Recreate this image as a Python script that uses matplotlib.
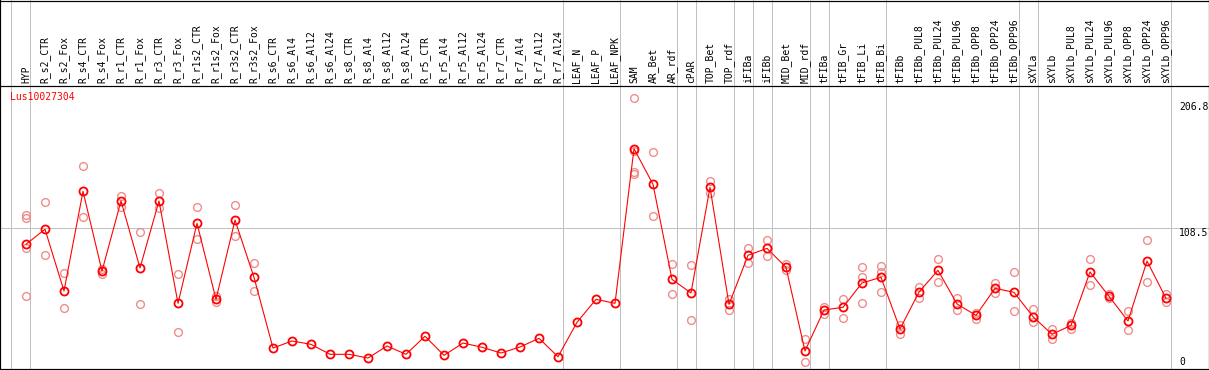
import matplotlib
matplotlib.use("Agg")
import matplotlib.pyplot as plt

# sample names along the top
samples = ["HYP",
           "R_s2_CTR", "R_s2_Fox", "R_s4_CTR", "R_s4_Fox", "R_r1_CTR", "R_r1_Fox",
           "R_r3_CTR", "R_r3_Fox", "R_r1s2_CTR", "R_r1s2_Fox", "R_r3s2_CTR", "R_r3s2_Fox",
           "R_s6_CTR", "R_s6_Al4", "R_s6_Al12", "R_s6_Al24",
           "R_s8_CTR", "R_s8_Al4", "R_s8_Al12", "R_s8_Al24",
           "R_r5_CTR", "R_r5_Al4", "R_r5_Al12", "R_r5_Al24",
           "R_r7_CTR", "R_r7_Al4", "R_r7_Al12", "R_r7_Al24",
           "LEAF_N", "LEAF_P", "LEAF_NPK",
           "SAM", "AR_Bet", "AR_rdf", "cPAR", "TOP_Bet", "TOP_rdf",
           "iFIBa", "iFIBb", "MID_Bet", "MID_rdf",
           "tFIBa", "tFIB_Gr", "tFIB_Li", "tFIB_Bi",
           "tFIBb", "tFIBb_PUL8", "tFIBb_PUL24", "tFIBb_PUL96",
           "tFIBb_OPP8", "tFIBb_OPP24", "tFIBb_OPP96",
           "sXYLa", "sXYLb", "sXYLb_PUL8", "sXYLb_PUL24", "sXYLb_PUL96",
           "sXYLb_OPP8", "sXYLb_OPP24", "sXYLb_OPP96"]

# mean expression per sample
means = [95.8, 107.5, 59.3, 137.1, 74.9, 129.6, 77.3, 129.6, 49.7, 112.2, 52.8, 114.7, 70.0,
         14.8, 20.3, 17.7, 9.9, 9.9, 7.0, 16.4, 9.9, 24.0, 9.1, 18.7, 15.4, 10.9, 15.6, 22.4, 8.0,
         34.9, 52.8, 49.7,
         170.4, 142.6, 68.4, 57.8, 140.3, 48.9,
         87.2, 92.6, 77.8, 12.5,
         44.5, 46.6, 65.6, 70.0,
         29.7, 58.5, 75.5, 49.2, 40.3, 61.4, 58.3,
         39.3, 25.5, 32.5, 74.2, 55.2, 35.9, 82.7, 53.6]

# replicate values per sample
reps = [[118.4, 116.6, 93.2, 55.2], [128.6, 87.2], [73.4, 45.8], [156.7, 116.8], [76.5, 72.8],
        [133.5, 125.1], [105.1, 49.2], [135.5, 123.9], [72.3, 27.1], [124.7, 100.2],
        [55.4, 50.7], [126.2, 102.5], [81.2, 59.1],
        [], [], [], [], [], [], [], [], [], [], [], [], [], [], [], [],
        [], [], [],
        [209.7, 168.6, 152.5, 150.4], [167.6, 117.6], [80.2, 56.7], [79.4, 36.4],
        [144.9, 135.8], [52.8, 44.7],
        [92.6, 81.4], [98.9, 86.4], [80.2, 75.7], [21.6, 3.7],
        [46.6, 41.4], [52.8, 38.5], [78.1, 70.3, 49.7], [78.6, 73.9, 58.3],
        [33.0, 25.5], [62.4, 54.1], [84.1, 66.1], [53.6, 44.2], [41.9, 37.7], [65.3, 57.5], [74.2, 43.7],
        [45.3, 34.9], [29.7, 22.1], [34.1, 29.9], [84.1, 63.8], [57.0, 53.9], [43.7, 28.9],
        [98.9, 66.1], [57.2, 50.5]]

# last sample of each tissue group (-1 = left edge)
group_ends = [-1, 0, 28, 31, 34, 35, 37, 38, 39, 41, 42, 45, 52, 53, 60]
ticks = [206.8, 108.5, 0]
gene = "Lus10027304"

# pixel layout of the original image
W, H = 1209, 370
X0, DX = 26, 19          # first sample x, spacing
Y0, SC = 367, 1.2811     # value 0 row, px per unit


def yv(py):
    return (Y0 - py) / SC


def xi(px):
    return (px - X0) / DX


fig = plt.figure(figsize=(W / 100, H / 100), dpi=100)
ax = fig.add_axes([0, 0, 1, 1])
ax.set_xlim(xi(0), xi(W))
ax.set_ylim(yv(H), yv(0))
ax.axis("off")

mono = "DejaVu Sans Mono"
grey = "#c0c0c0"
px = 0.72

# frame
for y in [yv(0.5), yv(85.5), yv(368.8)]:
    ax.axhline(y, color="black", lw=1.2 * px, zorder=5)
for x in [xi(0.5), xi(1208.5)]:
    ax.axvline(x, color="black", lw=1.2 * px, zorder=5)

# grid
ax.axhline(108.5, color=grey, lw=px, zorder=1)
for g in group_ends:
    ax.axvline(g + 4.5 / DX, color=grey, lw=px, zorder=1)

# sample labels
for i, s in enumerate(samples):
    ax.text(i, yv(83), s, rotation=90, ha="center", va="bottom",
            family=mono, fontsize=7, color="black")

# value labels on the right
ax.text(xi(1179), ticks[0], "206.8", ha="left", va="top", family=mono, fontsize=7)
ax.text(xi(1179), ticks[1], "108.5", ha="left", va="top", family=mono, fontsize=7)
ax.text(xi(1179), yv(365), "0", ha="left", va="baseline", family=mono, fontsize=7)

ax.text(xi(10), yv(92), gene, ha="left", va="top", family=mono, fontsize=7, color="red")

# replicates
for i, r in enumerate(reps):
    if r:
        ax.plot([i] * len(r), r, "o", ms=5.6, mfc="none", mec="#f08c8c", mew=1.0, zorder=2)

# means
ax.plot(range(len(means)), means, "-", color="red", lw=px * 1.1, zorder=3)
ax.plot(range(len(means)), means, "o", ms=5.8, mfc="none", mec="red", mew=1.3, zorder=4)

fig.savefig("out.png", dpi=100)
